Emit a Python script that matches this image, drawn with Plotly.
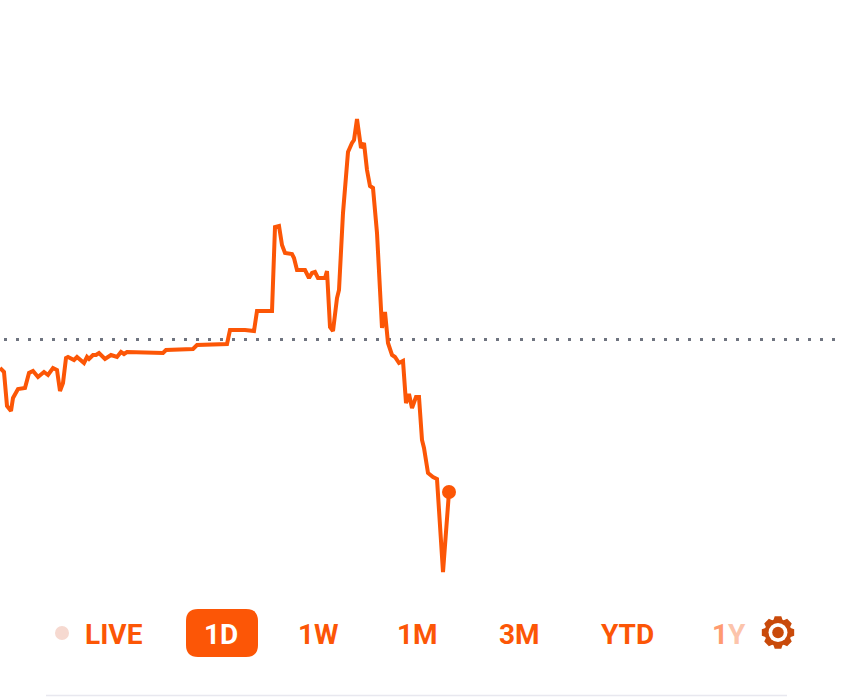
import numpy as np
import plotly.graph_objects as go

# price line (x = time position, y = level)
times = [0, 4, 7, 11, 13, 18, 25, 29, 33, 38, 44, 48, 53, 57, 60, 63, 66, 68, 74, 77,
         84, 87, 89, 93, 96, 99, 105, 111, 117, 121, 124, 127, 163, 166, 193, 197, 227,
         230, 245, 254, 257, 272, 275, 279, 282, 285, 292, 294, 297, 305, 309, 312, 315,
         318, 325, 327, 330, 333, 337, 339, 343, 346, 348, 352, 354, 357, 361, 364, 367,
         370, 373, 377, 382, 385, 388, 392, 395, 399, 403, 406, 409, 412, 416, 419, 422,
         424, 428, 433, 437, 443, 449]
levels = [332, 328, 294, 289, 302, 311, 312, 327, 329, 323, 328, 325, 332, 330, 309, 317,
          342, 343, 340, 343, 337, 343, 341, 345, 345, 347, 341, 345, 343, 348, 346, 348,
          347, 350, 351, 355, 356, 370, 370, 369, 389, 389, 473, 474, 455, 447, 446, 442,
          430, 430, 422, 427, 428, 422, 422, 429, 373, 369, 402, 410, 487, 527, 548, 557,
          560, 581, 552, 557, 530, 514, 512, 467, 372, 388, 357, 345, 343, 337, 339, 297,
          306, 292, 303, 303, 260, 252, 227, 223, 221, 128, 208]

previous_close = 360.5
ref_start, ref_end = 4, 836

range_labels = ["LIVE", "1D", "1W", "1M", "3M", "YTD"]
range_label_x = [114, 221, 318, 417, 519, 627]

ORANGE = "#fc5606"

fig = go.Figure()

fig.add_trace(
    go.Scatter(
        x=[ref_start, ref_end],
        y=[previous_close, previous_close],
        mode="lines",
        line=dict(color="#6f7480", width=3, dash="3px,9px"),
        hoverinfo="skip",
    )
)
fig.add_trace(
    go.Scatter(
        x=times,
        y=levels,
        mode="lines",
        line=dict(color=ORANGE, width=4),
        hoverinfo="skip",
    )
)
fig.add_trace(
    go.Scatter(
        x=times[-1:],
        y=levels[-1:],
        mode="markers",
        marker=dict(color=ORANGE, size=14),
        hoverinfo="skip",
    )
)


def gear_path(cx, cy, r_out, r_in, teeth=8):
    # outline of a cog wheel, y goes up here
    pts = []
    step = 2 * np.pi / teeth
    for i in range(teeth):
        a = i * step
        for da, r in [(-0.34, r_in), (-0.20, r_out), (0.20, r_out), (0.34, r_in)]:
            pts.append((cx + r * np.cos(a + da), cy + r * np.sin(a + da)))
    return "M" + "L".join("{:.2f},{:.2f}".format(x, y) for x, y in pts) + "Z"


def rounded_rect(x0, x1, y0, y1, r):
    return (
        f"M{x0 + r},{y0} L{x1 - r},{y0} Q{x1},{y0} {x1},{y0 + r} L{x1},{y1 - r} "
        f"Q{x1},{y1} {x1 - r},{y1} L{x0 + r},{y1} Q{x0},{y1} {x0},{y1 - r} "
        f"L{x0},{y0 + r} Q{x0},{y0} {x0 + r},{y0} Z"
    )


def disc(cx, cy, r, color):
    return dict(
        type="circle", x0=cx - r, x1=cx + r, y0=cy - r, y1=cy + r,
        fillcolor=color, line_width=0, layer="above",
    )


shapes = [
    dict(type="path", path=rounded_rect(186, 258, 43, 91, 12), fillcolor=ORANGE, line_width=0),
    disc(62, 67, 7, "#f6d9d0"),
    dict(type="path", path=gear_path(778, 67.5, 16.5, 13.5), fillcolor="#c94a0a", line_width=0),
    disc(778, 67.5, 9.5, "#ffffff"),
    disc(778, 67.5, 5.8, "#c94a0a"),
    dict(type="line", x0=46, x1=787, y0=4.5, y1=4.5, line=dict(color="#e8e8ef", width=1.5)),
]

annotations = [
    dict(
        x=x, y=66, text=label, showarrow=False,
        font=dict(family="Roboto", size=28, color="#ffffff" if label == "1D" else ORANGE, weight=700),
    )
    for label, x in zip(range_labels, range_label_x)
]
annotations.append(
    dict(
        x=729, y=66, showarrow=False,
        text='<span style="color:#ff9a70">1</span><span style="color:#fcc4ab">Y</span>',
        font=dict(family="Roboto", size=28, weight=700),
    )
)

fig.update_layout(
    width=842,
    height=700,
    margin=dict(l=0, r=0, t=0, b=0),
    paper_bgcolor="white",
    plot_bgcolor="white",
    showlegend=False,
    xaxis=dict(range=[0, 842], visible=False),
    yaxis=dict(range=[0, 700], visible=False),
    shapes=shapes,
    annotations=annotations,
)

# page has a default body margin, drop it so the chart fills the window
fig.write_html(
    "out.html",
    config={"displayModeBar": False},
    post_script="document.body.style.margin='0';document.body.style.overflow='hidden';",
)
